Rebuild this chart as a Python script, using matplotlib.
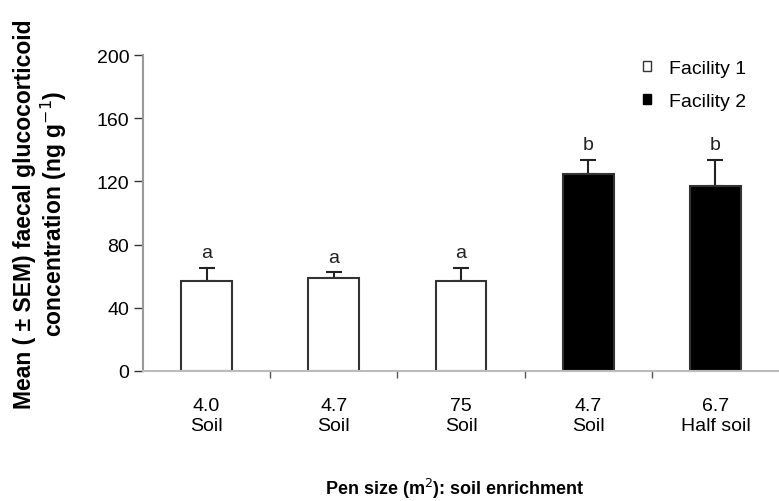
import matplotlib.pyplot as plt
import numpy as np

plt.rcParams['font.family'] = ['Liberation Sans', 'DejaVu Sans']

# data
labels = ['4.0\nSoil', '4.7\nSoil', '75\nSoil', '4.7\nSoil', '6.7\nHalf soil']
means = [57, 58.7, 57, 124.7, 117.3]
sem = [8.4, 4.0, 8.4, 9.0, 16.4]
facility = [1, 1, 1, 2, 2]
letters = ['a', 'a', 'a', 'b', 'b']

fig = plt.figure(figsize=(7.79, 5.02), dpi=100)
ax = fig.add_axes([0.1836, 0.259, 0.8164, 0.6294])

x = np.arange(len(means))
colors = ['white' if f == 1 else 'black' for f in facility]

# error bars: upper side only
ax.errorbar(x, means, yerr=[np.zeros(len(sem)), sem], fmt='none',
            ecolor='#222222', elinewidth=1.5, capsize=6, capthick=1.5, zorder=1)
ax.bar(x, means, width=0.4, color=colors, edgecolor='#333333', linewidth=1.5, zorder=2)

for xi, m, s, l in zip(x, means, sem, letters):
    ax.text(xi, m + s + 4, l, ha='center', va='bottom', fontsize=14, color='#222222')

# legend
h1 = plt.Rectangle((0, 0), 1, 1, facecolor='white', edgecolor='#333333', linewidth=1)
h2 = plt.Rectangle((0, 0), 1, 1, facecolor='black', edgecolor='black', linewidth=1)
fig.legend([h1, h2], ['Facility 1', 'Facility 2'], frameon=False, fontsize=14,
           handlelength=0.41, handleheight=0.41, handletextpad=0.93, labelspacing=0.85,
           loc='upper left', bbox_to_anchor=(0.803, 0.914))

ax.set_xlim(-0.5, 4.5)
ax.set_ylim(0, 200)
ax.set_yticks([0, 40, 80, 120, 160, 200])
ax.set_xticks(x)
ax.set_xticklabels(labels, fontsize=14, linespacing=1.28)
ax.set_xticks(x[:-1] + 0.5, minor=True)
ax.tick_params(axis='x', which='major', length=0, pad=18.5)
ax.tick_params(axis='x', which='minor', length=5, width=1, color='#555555')
ax.tick_params(axis='y', length=6.5, width=1, color='#333333', labelsize=14, pad=3.5)

for loc in ['top', 'right']:
    ax.spines[loc].set_visible(False)
ax.spines['left'].set_color('#999999')
ax.spines['left'].set_linewidth(1.5)
ax.spines['bottom'].set_color('#bbbbbb')
ax.spines['bottom'].set_linewidth(1.5)

ax.set_ylabel('Mean ( ± SEM) faecal glucocorticoid\nconcentration (ng g$^{-1}$)',
              fontsize=16.5, fontweight='bold', linespacing=1.1)
ax.yaxis.set_label_coords(-0.117, 0.5)
ax.set_xlabel('Pen size (m$^2$): soil enrichment', fontsize=13, fontweight='bold')
ax.xaxis.set_label_coords(0.49, -0.332)

plt.savefig('out.png', dpi=100)
